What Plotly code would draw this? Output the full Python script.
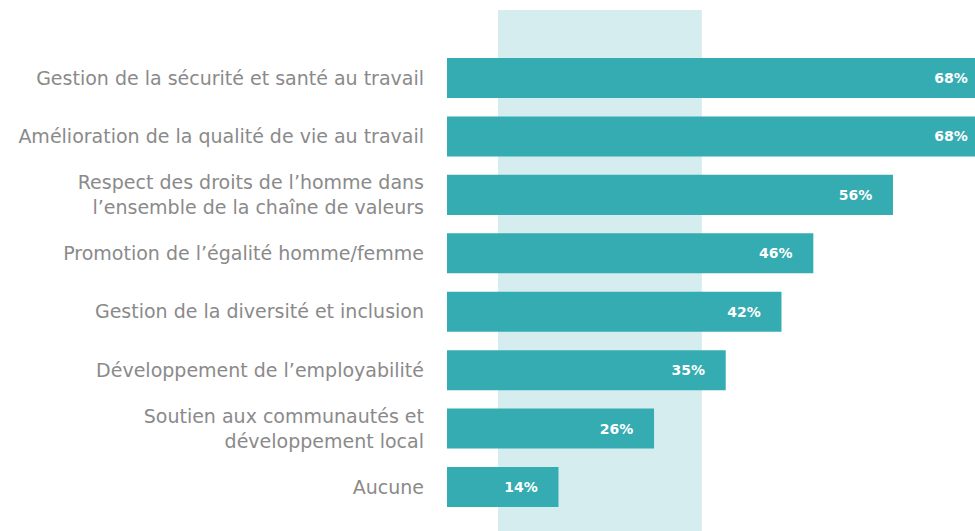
import plotly.graph_objects as go

categories = [
    "Gestion de la sécurité et santé au travail",
    "Amélioration de la qualité de vie au travail",
    "Respect des droits de l’homme dans<br>l’ensemble de la chaîne de valeurs",
    "Promotion de l’égalité homme/femme",
    "Gestion de la diversité et inclusion",
    "Développement de l’employabilité",
    "Soutien aux communautés et<br>développement local",
    "Aucune",
]
values = [68, 68, 56, 46, 42, 35, 26, 14]
band = [6.4, 32.0]  # highlighted zone on the x axis

BAR = "#35abb2"
BAND = "#d6edef"
GREY = "#8a8a8a"

fig = go.Figure()
fig.add_trace(go.Bar(
    x=values, y=categories, orientation="h",
    marker=dict(color=BAR, line=dict(width=0)),
    width=0.685,
    text=[f"<b>{v}%</b>" + "\u00a0" * 4 for v in values],
    textposition="inside", insidetextanchor="end",
    textfont=dict(family="DejaVu Sans", size=14, color="white"),
    hoverinfo="skip",
))

fig.add_shape(type="rect", xref="x", yref="paper",
              x0=band[0], x1=band[1], y0=0, y1=1,
              fillcolor=BAND, line=dict(width=0), layer="below")

fig.update_layout(
    width=975, height=531,
    margin=dict(l=447, r=0, t=10, b=0),
    paper_bgcolor="white", plot_bgcolor="white",
    showlegend=False,
    font=dict(family="DejaVu Sans", color=GREY, size=19),
)
fig.update_xaxes(range=[0, 66.3], visible=False, showgrid=False, zeroline=False)
fig.update_yaxes(range=[7.753, -1.164], showgrid=False, zeroline=False,
                 showline=False, ticks="", ticklabelstandoff=22,
                 tickfont=dict(family="DejaVu Sans", size=19, color=GREY))

# drop the default 8px body margin so the figure sits in the window corner
fig.write_html("out.html", config={"displayModeBar": False},
               post_script="document.body.style.margin='0';")
